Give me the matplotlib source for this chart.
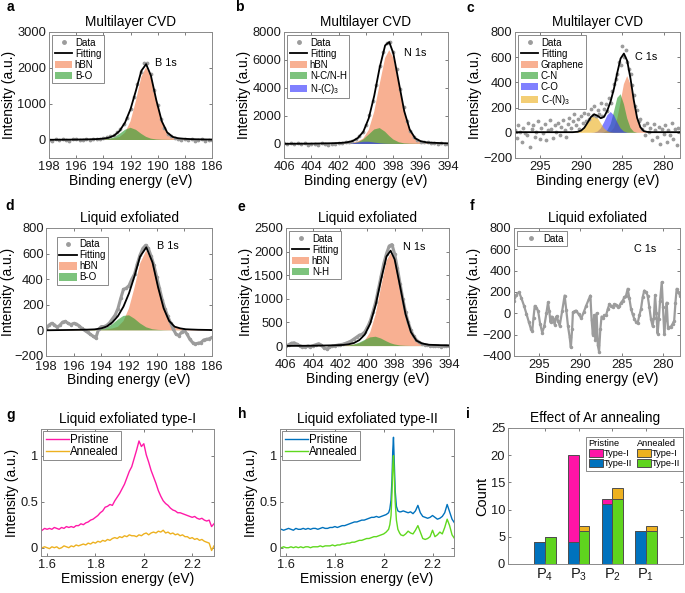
import numpy as np
import matplotlib
matplotlib.use('Agg')
import matplotlib.pyplot as plt
from matplotlib.patches import Patch
from matplotlib.lines import Line2D

# ---------------- data ----------------
# (a) Multilayer CVD, B 1s
a_cx = [198, 196, 195, 194.5, 194, 193.6, 193.2, 192.8, 192.4, 192.0, 191.6, 191.2,
        190.85, 190.5, 190.1, 189.7, 189.3, 188.9, 188.5, 188, 187.5, 187, 186]
a_hbn = [5, 9, 15, 19, 25, 32, 46, 84, 205, 516, 1091, 1753, 2020, 1753, 1091, 516,
         205, 84, 46, 30, 22, 17, 11]
a_bo = [1, 3, 4, 7, 13, 31, 78, 170, 283, 340, 283, 170, 87, 38, 16, 8, 5, 4, 3, 3, 2, 2, 1]
a_fit = [6, 12, 19, 26, 38, 63, 124, 254, 488, 856, 1374, 1923, 2107, 1791, 1107, 524,
         210, 88, 49, 33, 24, 19, 12]
a_data = [10, -15, 20, -5, 25, 0, -20, 15, 30, -10, 5, 35, 0, 15, 40, 20, 60, 80, 110, 150,
          210, 300, 440, 620, 870, 1190, 1550, 1890, 2130, 2150, 1830, 1380, 970, 590, 340,
          180, 100, 50, 30, 10, 35, 0, 20, -15, 5, 25, -20, 0, -10]

# (b) Multilayer CVD, N 1s
b_cx = [406, 404, 402.5, 401.8, 401.4, 401.0, 400.6, 400.2, 399.8, 399.4, 399.0, 398.6,
        398.3, 398.0, 397.6, 397.2, 396.8, 396.4, 396.0, 395.5, 394]
b_hbn = [12, 23, 43, 61, 77, 107, 188, 390, 1000, 2292, 4268, 6151, 6700, 6151, 4268,
         2292, 1000, 390, 188, 94, 41]
b_nc = [2, 5, 9, 14, 23, 45, 127, 322, 673, 1035, 1138, 874, 575, 322, 127, 45, 23, 14, 11, 9, 5]
b_nc3 = [0, 1, 2, 6, 19, 51, 108, 162, 162, 108, 51, 19, 9, 4, 2, 1, 1, 1, 1, 1, 0]
b_fit = [14, 29, 54, 81, 119, 203, 423, 874, 1835, 3435, 5457, 7044, 7284, 6477, 4397,
         2339, 1024, 405, 200, 104, 46]
b_data = [40, -30, 60, 20, 80, 0, 50, -40, 30, 10, -60, 40, -20, -80, 30, 0, 60, 40, 130, 120,
          230, 330, 550, 830, 1350, 2050, 3050, 4250, 5550, 6600, 7250, 7300, 6600, 5350,
          3950, 2650, 1650, 920, 520, 300, 170, 110, 130, 60, 100, 30, 50, 0, 30]

# (c) Multilayer CVD, C 1s
c_cx = [298, 294, 292, 291, 290.4, 290.0, 289.6, 289.2, 288.8, 288.4, 288.0, 287.6, 287.2,
        286.8, 286.4, 286.0, 285.6, 285.2, 284.8, 284.4, 284.0, 283.6, 283.2, 282.8, 282.4,
        282.0, 281.5, 280, 278]
c_gra = [0, 0, 0, 0, 0, 0, 0, 0, 0, 0, 0, 0, 0, 2, 9, 39, 113, 244, 386, 450, 386, 244, 113,
         39, 9, 2, 0, 0, 0]
c_cn = [0, 0, 0, 0, 0, 0, 0, 0, 0, 0, 0, 0, 4, 20, 70, 169, 277, 306, 228, 114, 39, 8, 1,
        0, 0, 0, 0, 0, 0]
c_co = [0, 0, 0, 0, 0, 0, 0, 0, 0, 2, 10, 35, 83, 139, 165, 139, 83, 35, 10, 2, 0, 0, 0,
        0, 0, 0, 0, 0, 0]
c_cn3 = [0, 0, 0, 0, 3, 12, 35, 76, 120, 140, 120, 76, 35, 12, 3, 0, 0, 0, 0, 0, 0, 0, 0,
         0, 0, 0, 0, 0, 0]
c_fit = [5, 5, 5, 5, 8, 17, 40, 81, 125, 147, 135, 116, 127, 178, 252, 352, 478, 590, 629,
         571, 430, 257, 119, 44, 14, 7, 5, 5, 5]
c_data = [20, -40, 60, 10, -70, 40, 0, -20, 80, -110,
          30, 60, -30, 10, 90, -50, 40, 0, 70, -60,
          20, 100, 30, -40, 60, 10, 80, -20, 50, 100,
          20, -30, 70, 120, 40, 90, 150, 60, 110, 30,
          130, 80, 160, 90, 150, 110, 190, 140, 210, 130,
          180, 150, 240, 130, 190, 230, 170, 280, 240, 330,
          390, 430, 470, 560, 540, 690, 600, 660, 560, 510,
          470, 380, 300, 210, 180, 90, 110, 30, 60, -20,
          80, 10, 40, -60, 70, 20, -30, 50, -90, 30,
          -10, 60, -70, 20, -20, 80, -50, 30, -100, 40,
          10]

# (d) Liquid exfoliated, B 1s
d_cx = [198, 196, 195, 194.5, 194, 193.6, 193.2, 192.8, 192.4, 192.0, 191.6, 191.2, 190.75,
        190.3, 189.9, 189.5, 189.1, 188.7, 188.3, 187.9, 187.5, 187, 186]
d_hbn = [1, 3, 4, 5, 7, 9, 15, 28, 73, 172, 334, 522, 625, 522, 334, 172, 73, 28, 15, 9, 7, 5, 3]
d_bo = [0, 1, 2, 3, 9, 22, 48, 84, 113, 118, 91, 55, 24, 9, 4, 2, 1, 1, 1, 0, 0, 0, 0]
d_fit = [1, 4, 6, 8, 16, 31, 63, 112, 186, 290, 425, 577, 649, 531, 338, 174, 74, 29, 16,
         9, 7, 5, 3]
d_data = [10, 40, 55, 45, 25, 40, 65, 70, 55, 45,
          55, 50, 35, 15, 0, -15, -30, -45, -60, 10,
          30, 30, 40, 60, 90, 120, 170, 250, 320, 330,
          350, 400, 440, 520, 590, 640, 665, 640, 580, 510,
          420, 330, 240, 170, 110, 60, 10, -30, -40, -15,
          0, -30, -70, -95, -105, -100, -95, -75, -70, -65,
          -55]

# (e) Liquid exfoliated, N 1s
e_cx = [406, 404, 402.5, 401.8, 401.4, 401.0, 400.6, 400.2, 399.8, 399.4, 399.0, 398.6,
        398.3, 398.0, 397.6, 397.2, 396.8, 396.4, 396.0, 395.5, 394]
e_hbn = [3, 7, 13, 18, 23, 31, 55, 114, 292, 670, 1248, 1799, 1960, 1799, 1248, 670, 292,
         114, 55, 27, 12]
e_nh = [1, 1, 3, 6, 14, 34, 72, 130, 184, 198, 160, 100, 60, 34, 14, 6, 3, 2, 2, 1, 1]
e_fit = [4, 8, 16, 24, 37, 65, 127, 244, 476, 868, 1408, 1899, 2020, 1833, 1262, 676, 295,
         116, 57, 28, 13]
e_data = [0, 30, 60, 70, 40, 10, -10, -20, 0, -10,
          10, 30, 50, 20, -40, -60, -30, 0, 10, 20,
          30, 40, 60, 80, 110, 150, 190, 230, 250, 300,
          400, 530, 720, 930, 1200, 1480, 1750, 1960, 2120, 2150,
          1950, 1650, 1320, 1000, 720, 500, 330, 210, 130, 80,
          50, 30, 20, 10, 0, 10, 0, -10, 0, 10,
          0]

# (f) Liquid exfoliated, C 1s
f_x = [298.0, 297.7, 297.4, 297.1, 296.8, 296.5, 296.2, 295.95, 295.8, 295.65,
       295.5, 295.3, 295.1, 294.85, 294.6, 294.35, 294.1, 293.9, 293.75, 293.6,
       293.45, 293.3, 293.1, 292.95, 292.85, 292.7, 292.5, 292.2, 291.9, 291.7,
       291.5, 291.3, 291.15, 291.0, 290.9, 290.7, 290.5, 290.2, 289.9, 289.6,
       289.3, 289.0, 288.8, 288.65, 288.5, 288.35, 288.2, 288.05, 287.9, 287.75,
       287.6, 287.45, 287.3, 287.1, 286.9, 286.7, 286.5, 286.3, 286.1, 285.9,
       285.7, 285.5, 285.3, 285.1, 284.9, 284.7, 284.5, 284.3, 284.1, 283.9,
       283.7, 283.5, 283.3, 283.1, 282.9, 282.7, 282.5, 282.3, 282.1, 281.9,
       281.7, 281.5, 281.3, 281.15, 281.0, 280.85, 280.7, 280.55, 280.4, 280.2,
       280.05, 279.9, 279.75, 279.6, 279.45, 279.3, 279.1, 278.9, 278.7, 278.55,
       278.4, 278.2, 278.0]
f_y = [120, 175, 200, 140, 73, -5, -85, -150, -164, -40,
       70, 50, 25, -100, -180, -120, 0, 103, 20, -85,
       -30, -50, -107, -40, -25, -70, -117, 20, 167, 30,
       -117, -220, -320, -150, 10, 20, 25, -10, -47, 10,
       73, 130, 167, -60, -200, -20, -250, 0, -300, -360,
       -150, -30, -40, -20, -16, 40, 88, 70, 63, 85,
       82, 60, 73, 100, 120, 150, 167, 230, 140, 41,
       -10, -53, -80, -91, -20, 41, 150, 214, 200, 167,
       60, -53, -120, -40, 170, 0, -190, -50, 120, 293,
       60, -190, -60, 100, -140, -130, -126, -100, -70, 100,
       230, 200, 167]

# (g) Liquid exfoliated type-I PL
g_pristine = [.19, .21, .20, .21, .20, .22, .21, .20, .22, .21,
              .23, .22, .23, .22, .24, .24, .26, .25, .27, .28,
              .30, .31, .33, .35, .38, .40, .44, .45, .47, .46,
              .51, .55, .59, .64, .69, .76, .83, .88, .97, 1.06,
              1.16, 1.10, 1.13, 1.01, .93, .84, .77, .70, .62, .56,
              .51, .48, .46, .43, .41, .40, .38, .38, .37, .36,
              .35, .34, .33, .34, .32, .31, .32, .30, .29, .30,
              .23, .26]
g_annealed = [.00, .01, .00, -.01, .01, .00, .01, -.01, .00, .02,
              .01, .00, .02, .01, .03, .02, .03, .04, .03, .05,
              .04, .06, .05, .07, .06, .08, .07, .09, .08, .10,
              .11, .10, .12, .11, .13, .12, .14, .13, .13, .12,
              .14, .13, .15, .16, .14, .16, .17, .16, .18, .17,
              .19, .16, .17, .15, .16, .14, .15, .13, .14, .12,
              .12, .10, .11, .09, .10, .08, .09, .07, .06, .05,
              -.03, .02]

# (h) Liquid exfoliated type-II PL
h_x = ([1.58, 1.59, 1.60, 1.61, 1.62, 1.63, 1.64, 1.65, 1.66, 1.67,
        1.68, 1.69, 1.70, 1.71, 1.72, 1.73, 1.74, 1.75, 1.76, 1.77,
        1.78, 1.79, 1.80, 1.81, 1.82, 1.83, 1.84, 1.85, 1.86, 1.87,
        1.88, 1.89, 1.90, 1.91, 1.92, 1.93, 1.94, 1.95, 1.96, 1.97,
        1.98, 1.99, 2.00, 2.01, 2.02]
       + [2.025, 2.03, 2.034, 2.037, 2.040, 2.043, 2.047, 2.052, 2.058, 2.065]
       + [2.07, 2.08, 2.09, 2.10, 2.11, 2.12, 2.13, 2.14, 2.15, 2.16, 2.17, 2.18,
          2.19, 2.20, 2.21, 2.22, 2.23, 2.24, 2.25, 2.26, 2.27, 2.28, 2.29])
h_pristine = ([.20, .19, .20, .21, .20, .19, .21, .20, .20, .21,
               .20, .21, .20, .21, .21, .20, .21, .22, .21, .21,
               .22, .22, .23, .22, .23, .24, .24, .25, .26, .27,
               .28, .28, .29, .30, .30, .31, .32, .33, .33, .34,
               .33, .34, .35, .36, .38]
              + [.42, .52, .75, 1.05, 1.20, .95, .62, .45, .40, .39]
              + [.39, .40, .39, .38, .39, .37, .40, .46, .38, .34, .33, .32,
                 .33, .35, .33, .31, .32, .34, .38, .47, .39, .31, .27])
h_annealed = ([.00, .01, .00, .00, .01, .00, .01, .00, .01, .00,
               .01, .01, .00, .01, .01, .01, .02, .01, .02, .02,
               .02, .03, .02, .03, .03, .04, .04, .05, .05, .06,
               .06, .07, .08, .08, .09, .10, .10, .11, .12, .12,
               .13, .14, .15, .17, .20]
              + [.25, .35, .60, .88, 1.00, .80, .50, .30, .20, .16]
              + [.14, .13, .15, .18, .16, .15, .19, .24, .17, .10, .09, .10,
                 .12, .19, .12, .14, .17, .15, .22, .31, .24, .14, .10])

# (i) Effect of Ar annealing
i_groups = ['P$_4$', 'P$_3$', 'P$_2$', 'P$_1$']
i_pri_type2 = [4, 4, 11, 6]
i_pri_type1 = [0, 16, 1, 0]
i_ann_type2 = [5, 6, 12, 6]
i_ann_type1 = [0, 1, 2, 1]

# ---------------- style ----------------
plt.rcParams['font.family'] = ['Liberation Sans', 'DejaVu Sans']
plt.rcParams['mathtext.default'] = 'regular'

DATA_C = '#9c9c9c'
ORANGE = '#F5804F'
GREEN = '#2E9E2E'
BLUE = '#3333FF'
GOLD = '#EDB120'
AL = 0.62

W, H = 685, 593
fig = plt.figure(figsize=(W / 100, H / 100), dpi=100)


def axbox(x0, y0, x1, y1):
    return fig.add_axes([x0 / W, 1 - y1 / H, (x1 - x0) / W, (y1 - y0) / H])


def style(ax):
    for s in ax.spines.values():
        s.set_color('#8a8a8a')
        s.set_linewidth(0.7)
    ax.tick_params(direction='in', length=2.5, width=0.6, color='#666666',
                   top=True, right=True, labelsize=9.3, pad=2, labelcolor='#1a1a1a')


def legend(ax, handles, fs=7, **kw):
    opts = dict(loc='upper left', fontsize=fs, frameon=True, fancybox=False, framealpha=1,
                edgecolor='#777777', handlelength=1.8, handleheight=0.8, labelspacing=0.1,
                borderpad=0.25, handletextpad=0.25, borderaxespad=0.35)
    opts.update(kw)
    L = ax.legend(handles=handles, **opts)
    L.get_frame().set_linewidth(0.6)
    return L


def h_data():
    return Line2D([], [], marker='.', ls='none', color=DATA_C, markersize=5, label='Data')


def h_fit():
    return Line2D([], [], color='k', lw=1.3, label='Fitting')


def h_patch(c, lab):
    return Patch(facecolor=c, alpha=AL, edgecolor='none', label=lab)


def letter(x, y, s):
    fig.text(x / W, 1 - y / H, s, fontweight='bold', fontsize=10, ha='center', va='center')


def xps_axes(ax, xlim, xticks, ylim, yticks, title, ylpad=1):
    style(ax)
    ax.set_xlim(*xlim)
    ax.set_xticks(xticks)
    ax.set_ylim(*ylim)
    ax.set_yticks(yticks)
    ax.set_title(title, fontsize=9.8, pad=4)
    ax.set_xlabel('Binding energy (eV)', fontsize=10, labelpad=1)
    ax.set_ylabel('Intensity (a.u.)', fontsize=10, labelpad=ylpad)


def pl_legend(ax):
    L = ax.legend(loc='upper left', fontsize=8.3, frameon=True, fancybox=False, framealpha=1,
                  edgecolor='#777777', handlelength=2.0, labelspacing=0.05, borderpad=0.2,
                  handletextpad=0.1, borderaxespad=0.2)
    L.get_frame().set_linewidth(0.6)


# ---------- (a) ----------
ax = axbox(49, 32, 212, 158)
ax.fill_between(a_cx, 0, a_hbn, facecolor=ORANGE, alpha=AL, lw=0)
ax.fill_between(a_cx, 0, a_bo, facecolor=GREEN, alpha=AL, lw=0)
ax.plot(np.linspace(198, 186, len(a_data)), a_data, '.', color=DATA_C, ms=3.5)
ax.plot(a_cx, a_fit, color='k', lw=1.3)
xps_axes(ax, (198, 186), [198, 196, 194, 192, 190, 188, 186], (-500, 3000),
         [0, 1000, 2000, 3000], 'Multilayer CVD')
ax.text(190.2, 2140, 'B 1s', fontsize=7.8, va='center')
legend(ax, [h_data(), h_fit(), h_patch(ORANGE, 'hBN'), h_patch(GREEN, 'B-O')])
letter(10, 7, 'a')

# ---------- (b) ----------
ax = axbox(284, 32, 448, 158)
ax.fill_between(b_cx, 0, b_hbn, facecolor=ORANGE, alpha=AL, lw=0)
ax.fill_between(b_cx, 0, b_nc, facecolor=GREEN, alpha=AL, lw=0)
ax.fill_between(b_cx, 0, b_nc3, facecolor=BLUE, alpha=AL, lw=0)
ax.plot(np.linspace(406, 394, len(b_data)), b_data, '.', color=DATA_C, ms=3.5)
ax.plot(b_cx, b_fit, color='k', lw=1.3)
xps_axes(ax, (406, 394), [406, 404, 402, 400, 398, 396, 394], (-1000, 8000),
         [0, 2000, 4000, 6000, 8000], 'Multilayer CVD')
ax.text(397.2, 6480, 'N 1s', fontsize=7.8, va='center')
legend(ax, [h_data(), h_fit(), h_patch(ORANGE, 'hBN'), h_patch(GREEN, 'N-C/N-H'),
            h_patch(BLUE, 'N-(C)$_3$')])
letter(239, 7, 'b')

# ---------- (c) ----------
ax = axbox(515, 32, 680, 158)
ax.fill_between(c_cx, 0, c_gra, facecolor=ORANGE, alpha=AL, lw=0)
ax.fill_between(c_cx, 0, c_cn, facecolor=GREEN, alpha=AL, lw=0)
ax.fill_between(c_cx, 0, c_co, facecolor=BLUE, alpha=AL, lw=0)
ax.fill_between(c_cx, 0, c_cn3, facecolor=GOLD, alpha=AL, lw=0)
ax.plot(np.linspace(298, 278, len(c_data)), c_data, '.', color=DATA_C, ms=3.5)
ax.plot(c_cx, c_fit, color='k', lw=1.3)
xps_axes(ax, (298, 278), [295, 290, 285, 280], (-200, 800),
         [-200, 0, 200, 400, 600, 800], 'Multilayer CVD')
ax.text(283.4, 605, 'C 1s', fontsize=7.8, va='center')
legend(ax, [h_data(), h_fit(), h_patch(ORANGE, 'Graphene'), h_patch(GREEN, 'C-N'),
            h_patch(BLUE, 'C-O'), h_patch(GOLD, 'C-(N)$_3$')])
letter(470, 8, 'c')

# ---------- (d) ----------
ax = axbox(46, 228, 212, 356)
ax.fill_between(d_cx, 0, d_hbn, facecolor=ORANGE, alpha=AL, lw=0)
ax.fill_between(d_cx, 0, d_bo, facecolor=GREEN, alpha=AL, lw=0)
ax.plot(np.linspace(198, 186, len(d_data)), d_data, '.-', color=DATA_C, ms=3, lw=2.2)
ax.plot(d_cx, d_fit, color='k', lw=1.3)
xps_axes(ax, (198, 186), [198, 196, 194, 192, 190, 188, 186], (-200, 800),
         [-200, 0, 200, 400, 600, 800], 'Liquid exfoliated', ylpad=0)
ax.tick_params(axis='y', pad=1.5)
ax.tick_params(axis='x', pad=3.5)
ax.xaxis.labelpad = 0
ax.text(189.95, 661, 'B 1s', fontsize=7.8, va='center')
legend(ax, [h_data(), h_fit(), h_patch(ORANGE, 'hBN'), h_patch(GREEN, 'B-O')],
       bbox_to_anchor=(0.066, 0.93), borderaxespad=0)
letter(10, 206, 'd')

# ---------- (e) ----------
ax = axbox(286, 228, 449, 356)
ax.fill_between(e_cx, 0, e_hbn, facecolor=ORANGE, alpha=AL, lw=0)
ax.fill_between(e_cx, 0, e_nh, facecolor=GREEN, alpha=AL, lw=0)
ax.plot(np.linspace(406, 394, len(e_data)), e_data, '.-', color=DATA_C, ms=3, lw=2.2)
ax.plot(e_cx, e_fit, color='k', lw=1.3)
xps_axes(ax, (406, 394), [406, 404, 402, 400, 398, 396, 394], (-210, 2500),
         [0, 500, 1000, 1500, 2000, 2500], 'Liquid exfoliated')
ax.text(397.4, 2090, 'N 1s', fontsize=7.8, va='center')
legend(ax, [h_data(), h_fit(), h_patch(ORANGE, 'hBN'), h_patch(GREEN, 'N-H')])
letter(241, 207, 'e')

# ---------- (f) ----------
ax = axbox(514, 228, 680, 356)
ax.plot(f_x, f_y, '.-', color=DATA_C, ms=3, lw=1.6)
xps_axes(ax, (298, 278), [295, 290, 285, 280], (-400, 800),
         [-400, -200, 0, 200, 400, 600, 800], 'Liquid exfoliated')
ax.text(283.6, 603, 'C 1s', fontsize=7.8, va='center')
legend(ax, [h_data()], handlelength=2.2)
letter(472, 206, 'f')

# ---------- (g) ----------
PINK = '#FF1AA8'
ax = axbox(41, 429, 214, 556)
gx = np.linspace(1.58, 2.29, len(g_pristine))
ax.plot(gx, g_pristine, color=PINK, lw=1.0, label='Pristine')
ax.plot(gx, g_annealed, color=GOLD, lw=1.0, label='Annealed')
style(ax)
ax.set_xlim(1.575, 2.29)
ax.set_ylim(-0.09, 1.29)
ax.set_xticks([1.6, 1.8, 2.0, 2.2], ['1.6', '1.8', '2', '2.2'])
ax.set_yticks([0, 0.5, 1], ['0', '0.5', '1'])
ax.set_title('Liquid exfoliated type-I', fontsize=9.8, pad=4)
ax.set_xlabel('Emission energy (eV)', fontsize=10, labelpad=1)
ax.set_ylabel('Intensity (a.u.)', fontsize=10, labelpad=1)
pl_legend(ax)
letter(11, 415, 'g')

# ---------- (h) ----------
TBLUE = '#0072BD'
LGREEN = '#5FD81E'
ax = axbox(280, 429, 454, 556)
ax.plot(h_x, h_pristine, color=TBLUE, lw=1.0, label='Pristine')
ax.plot(h_x, h_annealed, color=LGREEN, lw=1.0, label='Annealed')
style(ax)
ax.set_xlim(1.575, 2.288)
ax.set_ylim(-0.09, 1.29)
ax.set_xticks([1.6, 1.8, 2.0, 2.2], ['1.6', '1.8', '2', '2.2'])
ax.set_yticks([0, 0.5, 1], ['0', '0.5', '1'])
ax.set_title('Liquid exfoliated type-II', fontsize=9.8, pad=4)
ax.set_xlabel('Emission energy (eV)', fontsize=10, labelpad=1)
ax.set_ylabel('Intensity (a.u.)', fontsize=10, labelpad=1)
pl_legend(ax)
letter(242, 414, 'h')

# ---------- (i) ----------
MAG = '#FF14A6'
BARG = '#5FD41E'
EC = '#4d4d4d'
ax = axbox(508, 428, 683, 564)
pos = np.arange(1, len(i_groups) + 1)
bw = 0.32
ax.bar(pos - bw / 2, i_pri_type2, bw, color=TBLUE, edgecolor=EC, lw=0.7)
ax.bar(pos - bw / 2, i_pri_type1, bw, bottom=i_pri_type2, color=MAG, edgecolor=EC, lw=0.7)
ax.bar(pos + bw / 2, i_ann_type2, bw, color=BARG, edgecolor=EC, lw=0.7)
ax.bar(pos + bw / 2, i_ann_type1, bw, bottom=i_ann_type2, color=GOLD, edgecolor=EC, lw=0.7)
style(ax)
ax.set_xlim(-0.1, 5.1)
ax.set_ylim(0, 25)
ax.set_yticks([0, 5, 10, 15, 20, 25])
ax.set_xticks(pos, i_groups)
ax.tick_params(axis='x', labelsize=10.5)
ax.set_ylabel('Count', fontsize=10.5, labelpad=1)
ax.set_title('Effect of Ar annealing', fontsize=9.8, pad=4)
hdr1 = Patch(facecolor='none', edgecolor='none', label='Pristine')
hdr2 = Patch(facecolor='none', edgecolor='none', label='Annealed')
hi = [hdr1, Patch(facecolor=MAG, edgecolor=EC, lw=0.7, label='Type-I'),
      Patch(facecolor=TBLUE, edgecolor=EC, lw=0.7, label='Type-II'),
      hdr2, Patch(facecolor=GOLD, edgecolor=EC, lw=0.7, label='Type-I'),
      Patch(facecolor=BARG, edgecolor=EC, lw=0.7, label='Type-II')]
L = ax.legend(handles=hi, ncol=2, loc='upper right', bbox_to_anchor=(1.0, 0.934),
              borderaxespad=0, fontsize=6.7, frameon=True, fancybox=False, framealpha=1,
              edgecolor='#777777', handlelength=1.5, handleheight=0.9, labelspacing=0.1,
              borderpad=0.25, handletextpad=0.1, columnspacing=0.6)
L.get_frame().set_linewidth(0.6)
try:
    for col in L._legend_handle_box.get_children():
        row0 = col.get_children()[0]
        row0.sep = 0
        row0.get_children()[0].width = 0
except Exception:
    pass
letter(468, 414, 'i')

fig.savefig('out.png', dpi=100)
